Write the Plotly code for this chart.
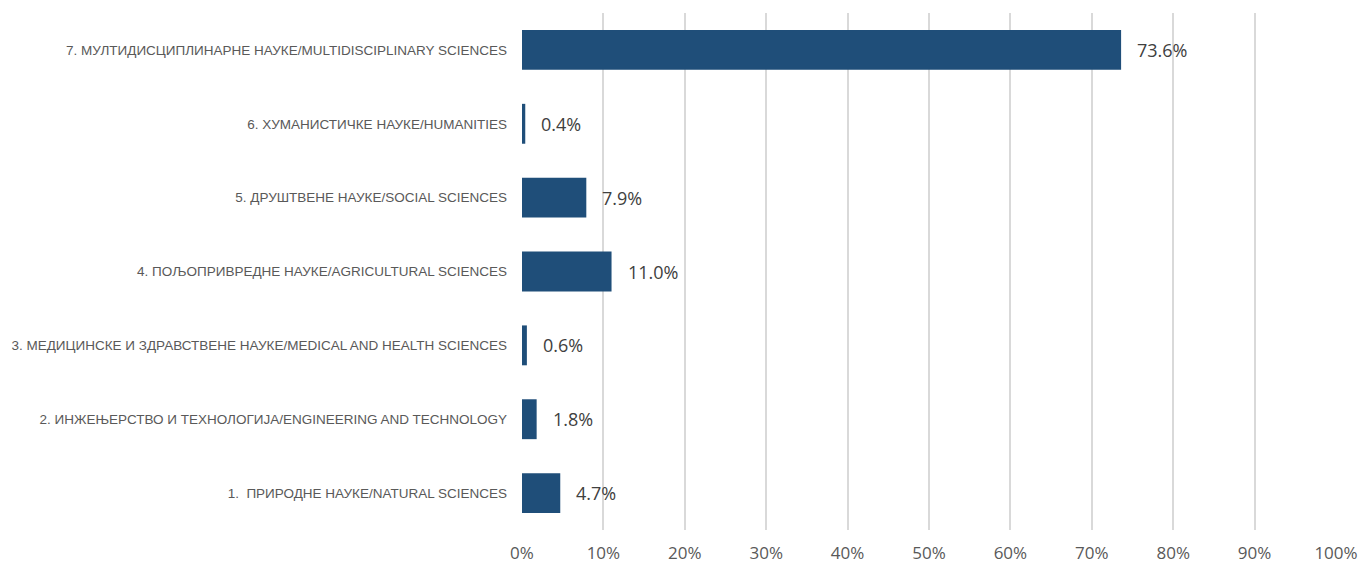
import plotly.graph_objects as go

categories = [
    "1.  ПРИРОДНЕ НАУКЕ/NATURAL SCIENCES",
    "2. ИНЖЕЊЕРСТВО И ТЕХНОЛОГИЈА/ENGINEERING AND TECHNOLOGY",
    "3. МЕДИЦИНСКЕ И ЗДРАВСТВЕНЕ НАУКЕ/MEDICAL AND HEALTH SCIENCES",
    "4. ПОЉОПРИВРЕДНЕ НАУКЕ/AGRICULTURAL SCIENCES",
    "5. ДРУШТВЕНЕ НАУКЕ/SOCIAL SCIENCES",
    "6. ХУМАНИСТИЧКЕ НАУКЕ/HUMANITIES",
    "7. МУЛТИДИСЦИПЛИНАРНЕ НАУКЕ/MULTIDISCIPLINARY SCIENCES",
]
values = [0.047, 0.018, 0.006, 0.110, 0.079, 0.004, 0.736]
tick_vals = [i / 10 for i in range(11)]
tick_text = [f"{i * 10}%" for i in range(11)]

font_family = "Liberation Sans Narrow, Liberation Sans, Arial, sans-serif"

fig = go.Figure()
fig.add_trace(go.Bar(
    y=categories,
    x=values,
    orientation="h",
    marker=dict(color="#1F4E79", line=dict(width=0)),
    hoverinfo="skip",
))

for c, v in zip(categories, values):
    fig.add_annotation(
        x=v, y=c, xref="x", yref="y",
        text=f"{v * 100:.1f}%",
        showarrow=False, xanchor="left", yanchor="middle",
        xshift=14,
        font=dict(family="Open Sans, sans-serif", size=18, color="#404040"),
    )

fig.update_layout(
    width=1364, height=567,
    margin=dict(l=522, r=28, t=13, b=37),
    paper_bgcolor="white",
    plot_bgcolor="white",
    bargap=0.46,
    showlegend=False,
    xaxis=dict(
        range=[0, 1.0],
        tickvals=tick_vals,
        ticktext=tick_text,
        showgrid=True,
        gridcolor="#D9D9D9",
        gridwidth=2,
        zeroline=False,
        showline=False,
        ticks="",
        automargin=False,
        ticklabelstandoff=11,
        tickfont=dict(family="Open Sans, sans-serif", size=17, color="#595959"),
    ),
    yaxis=dict(
        categoryorder="array",
        categoryarray=categories,
        showgrid=False,
        zeroline=False,
        showline=False,
        ticks="",
        automargin=False,
        ticklabelstandoff=14,
        tickfont=dict(family=font_family, size=13.5, color="#595959"),
    ),
)

fig.write_html(
    "out.html",
    config={"displayModeBar": False},
    post_script="document.body.style.margin='0';document.body.style.overflow='hidden';",
)
